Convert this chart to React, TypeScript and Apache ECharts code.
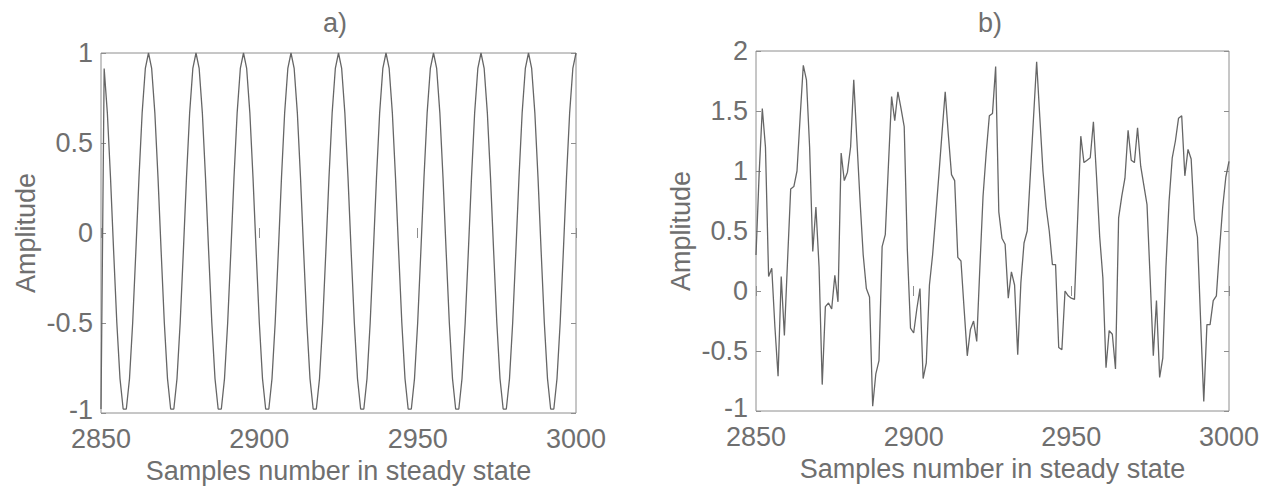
import React, { useEffect, useRef } from "react";
import * as echarts from "echarts";

const X_START = 2850;
const X_END = 3000;
const X_STEP = 50;
const titles = ["a)", "b)"];
const xName = "Samples number in steady state";
const yName = "Amplitude";

// a) clean sinusoid, samples 2850..3000
const seriesA = [
  -0.978,
  0.914, 0.669, 0.309, -0.105, -0.5, -0.809, -0.978, -0.978, -0.809, -0.5, -0.105, 0.309, 0.669, 0.914,
  1, 0.914, 0.669, 0.309, -0.105, -0.5, -0.809, -0.978, -0.978, -0.809, -0.5, -0.105, 0.309, 0.669, 0.914,
  1, 0.914, 0.669, 0.309, -0.105, -0.5, -0.809, -0.978, -0.978, -0.809, -0.5, -0.105, 0.309, 0.669, 0.914,
  1, 0.914, 0.669, 0.309, -0.105, -0.5, -0.809, -0.978, -0.978, -0.809, -0.5, -0.105, 0.309, 0.669, 0.914,
  1, 0.914, 0.669, 0.309, -0.105, -0.5, -0.809, -0.978, -0.978, -0.809, -0.5, -0.105, 0.309, 0.669, 0.914,
  1, 0.914, 0.669, 0.309, -0.105, -0.5, -0.809, -0.978, -0.978, -0.809, -0.5, -0.105, 0.309, 0.669, 0.914,
  1, 0.914, 0.669, 0.309, -0.105, -0.5, -0.809, -0.978, -0.978, -0.809, -0.5, -0.105, 0.309, 0.669, 0.914,
  1, 0.914, 0.669, 0.309, -0.105, -0.5, -0.809, -0.978, -0.978, -0.809, -0.5, -0.105, 0.309, 0.669, 0.914,
  1, 0.914, 0.669, 0.309, -0.105, -0.5, -0.809, -0.978, -0.978, -0.809, -0.5, -0.105, 0.309, 0.669, 0.914,
  1, 0.914, 0.669, 0.309, -0.105, -0.5, -0.809, -0.978, -0.978, -0.809, -0.5, -0.105, 0.309, 0.669, 0.914,
  1,
];

// b) distorted signal, samples 2850..3000
const seriesB = [
  0.3, 0.98, 1.52, 1.2, 0.12, 0.19, -0.3, -0.71, 0.12, -0.37,
  0.25, 0.85, 0.87, 1.0, 1.45, 1.88, 1.76, 1.2, 0.33, 0.7,
  0.2, -0.78, -0.13, -0.1, -0.15, 0.13, -0.09, 1.15, 0.92, 0.99,
  1.2, 1.76, 1.25, 0.75, 0.3, 0.02, -0.05, -0.96, -0.69, -0.58,
  0.37, 0.47, 1.05, 1.62, 1.42, 1.66, 1.52, 1.37, 0.34, -0.31,
  -0.35, -0.15, 0.02, -0.73, -0.6, 0.05, 0.3, 0.63, 0.97, 1.32,
  1.66, 1.3, 0.97, 0.92, 0.28, 0.25, -0.15, -0.54, -0.32, -0.25,
  -0.42, 0.2, 0.79, 1.15, 1.46, 1.48, 1.87, 0.66, 0.44, 0.39,
  -0.06, 0.16, 0.05, -0.53, 0.07, 0.4, 0.5, 0.97, 1.44, 1.91,
  1.45, 1.0, 0.7, 0.5, 0.22, 0.22, -0.47, -0.49, 0.0, -0.04,
  -0.06, -0.07, 0.6, 1.29, 1.07, 1.09, 1.11, 1.41, 0.95, 0.45,
  0.11, -0.64, -0.33, -0.36, -0.65, 0.61, 0.79, 0.94, 1.34, 1.09,
  1.07, 1.36, 1.04, 0.88, 0.72, 0.1, -0.54, -0.08, -0.72, -0.56,
  0.2, 0.75, 1.11, 1.25, 1.44, 1.46, 0.96, 1.18, 1.1, 0.6,
  0.45, -0.25, -0.92, -0.28, -0.28, -0.08, -0.04, 0.35, 0.7, 0.95,
  1.08,
];

const yRangeA = { min: -1, max: 1, interval: 0.5 };
const yRangeB = { min: -1, max: 2, interval: 0.5 };

const FONT = "'Liberation Sans', Arial, Helvetica, sans-serif";
const TEXT = "#6f6f6f";
const FRAME = "#8e8e8e";
const LINE = "#666666";
const FS = 27;

export default function App() {
  const ref = useRef<HTMLDivElement>(null);
  useEffect(() => {
    if (!ref.current) return;
    const chart = echarts.init(ref.current, undefined, { renderer: "svg" });
    const grids = [
      { left: 101, right: 1280 - 576, top: 53, bottom: 491 - 413 },
      { left: 756, right: 1280 - 1229, top: 51, bottom: 491 - 411 },
    ];
    const xAxes: any[] = [];
    const yAxes: any[] = [];
    [0, 1].forEach((g) => {
      const base = {
        gridIndex: g,
        type: "value",
        min: X_START,
        max: X_END,
        interval: X_STEP,
        axisLine: { show: false },
        splitLine: { show: false },
        axisTick: { inside: true, length: 5, lineStyle: { color: FRAME } },
      };
      xAxes.push({
        ...base,
        position: "bottom",
        axisLabel: {
          color: TEXT,
          fontSize: FS,
          fontFamily: FONT,
          margin: 16,
          lineHeight: 20,
          formatter: (v: number) => String(v),
        },
        name: xName,
        nameLocation: "middle",
        nameGap: 40,
        nameTextStyle: { color: TEXT, fontSize: FS, fontFamily: FONT },
      });
      xAxes.push({ ...base, position: "top", axisLabel: { show: false } });
      const yr = g === 0 ? yRangeA : yRangeB;
      const ybase = {
        gridIndex: g,
        type: "value",
        min: yr.min,
        max: yr.max,
        interval: yr.interval,
        axisLine: { show: false },
        splitLine: { show: false },
        axisTick: { inside: true, length: 5, lineStyle: { color: FRAME } },
      };
      yAxes.push({
        ...ybase,
        position: "left",
        axisLabel: {
          color: TEXT,
          fontSize: FS,
          fontFamily: FONT,
          margin: 8,
          lineHeight: 20,
          formatter: (v: number) => (v === yr.min ? `{lo|${v}}` : String(v)),
          rich: {
            lo: { color: TEXT, fontSize: FS, fontFamily: FONT, lineHeight: 18, padding: [0, 0, 6, 0] },
          },
        },
        name: yName,
        nameLocation: "middle",
        nameGap: 62,
        nameRotate: 90,
        nameTextStyle: { color: TEXT, fontSize: FS, fontFamily: FONT },
      });
      yAxes.push({ ...ybase, position: "right", axisLabel: { show: false } });
    });
    chart.setOption({
      animation: false,
      backgroundColor: "#ffffff",
      grid: grids.map((g) => ({ ...g, show: true, borderColor: FRAME, borderWidth: 1, backgroundColor: "transparent" })),
      xAxis: xAxes,
      yAxis: yAxes,
      graphic: [
        { type: "text", x: 335, y: 23, style: { text: titles[0], fill: TEXT, font: `${FS}px ${FONT}`, align: "center", verticalAlign: "middle" } },
        { type: "text", x: 990, y: 23, style: { text: titles[1], fill: TEXT, font: `${FS}px ${FONT}`, align: "center", verticalAlign: "middle" } },
      ],
      series: [
        {
          type: "line",
          xAxisIndex: 0,
          yAxisIndex: 0,
          data: seriesA.map((v, i) => [X_START + i, v]),
          showSymbol: false,
          lineStyle: { color: LINE, width: 1.3 },
          clip: true,
        },
        {
          type: "line",
          xAxisIndex: 2,
          yAxisIndex: 2,
          data: seriesB.map((v, i) => [X_START + i, v]),
          showSymbol: false,
          lineStyle: { color: LINE, width: 1.3 },
          clip: true,
        },
      ],
    });
    return () => chart.dispose();
  }, []);
  return (
    <div
      ref={ref}
      style={{ position: "absolute", left: 0, top: 0, width: 1280, height: 491, background: "#fff" }}
    />
  );
}
